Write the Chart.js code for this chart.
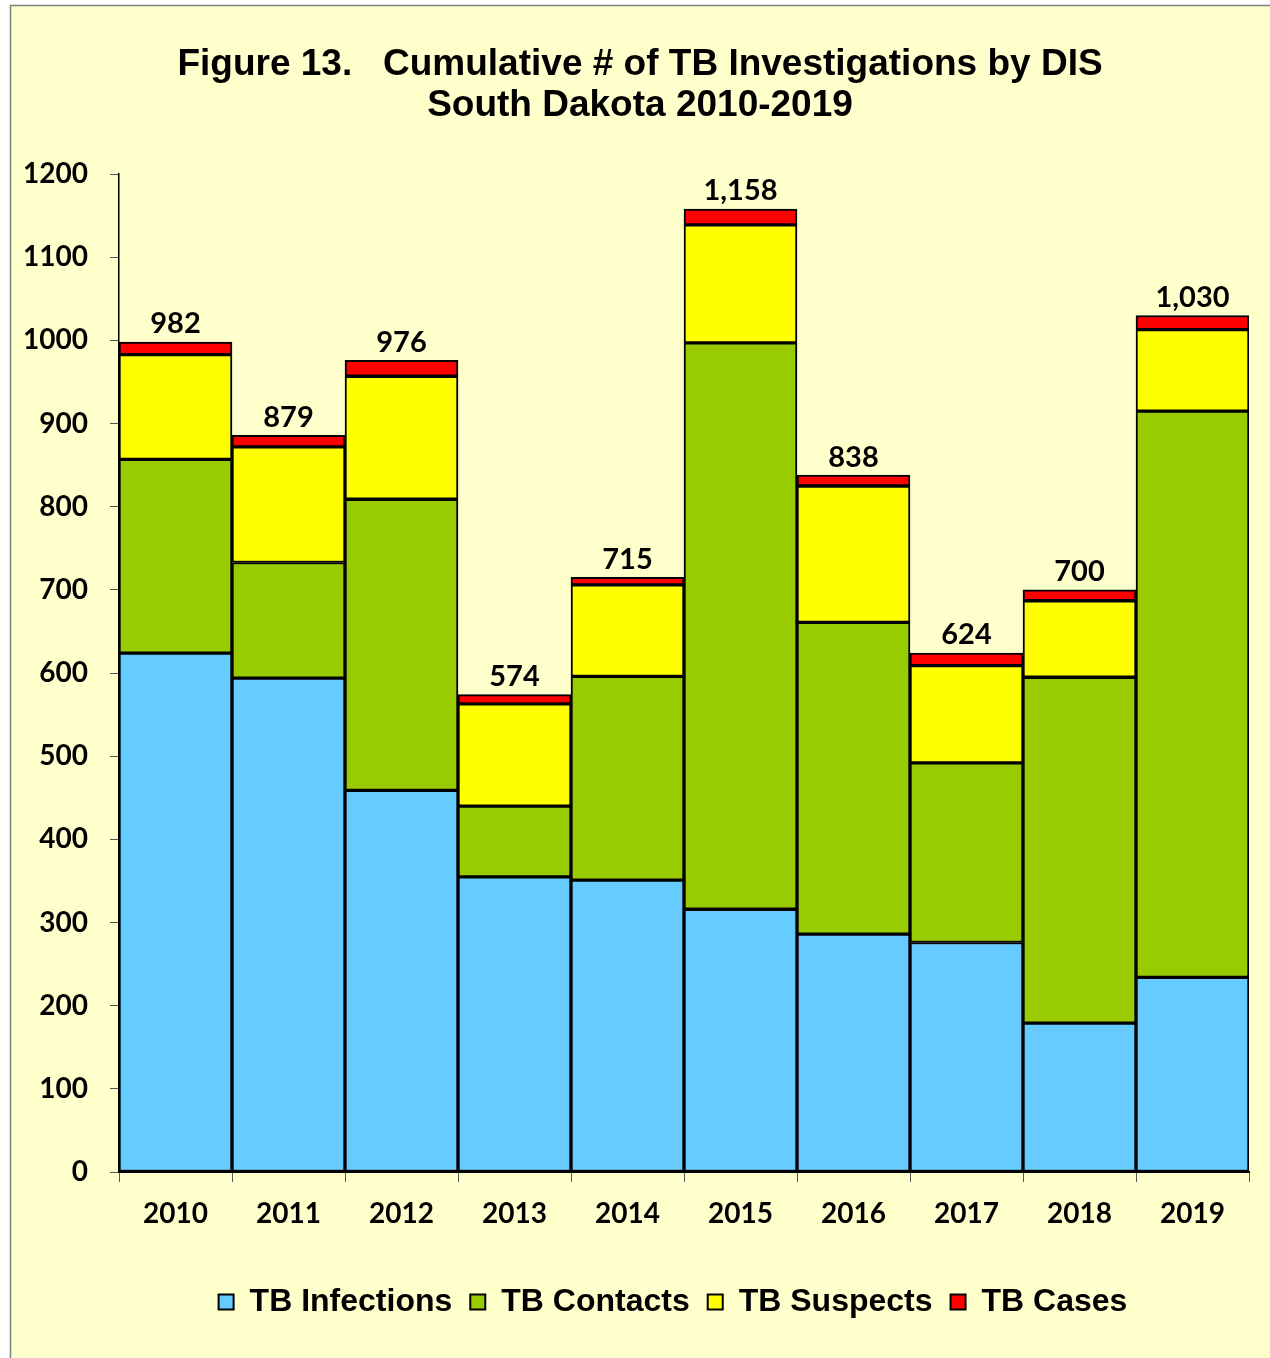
<!DOCTYPE html>
<html><head><meta charset="utf-8">
<script src="https://cdn.jsdelivr.net/npm/chart.js@4.4.1/dist/chart.umd.min.js"></script>
<style>html,body{margin:0;padding:0;background:#fff;} #wrap{width:1270px;height:1358px;position:relative;}</style>
</head><body><div id="wrap"><canvas id="c" width="1270" height="1358"></canvas></div>
<script>
const years = ['2010','2011','2012','2013','2014','2015','2016','2017','2018','2019'];
const tbInfections = [624,594,459,355,351,316,286,276,179,234];
const tbContacts   = [233,139,350,85,245,681,375,216,416,681];
const tbSuspects   = [126,139,148,123,110,142,164,117,92,98];
const tbCases      = [15,14,19,11,9,19,13,15,13,17];
const totalLabels  = ['982','879','976','574','715','1,158','838','624','700','1,030'];
const titleLines   = ['Figure 13.   Cumulative # of TB Investigations by DIS','South Dakota 2010-2019'];
const yTicks = {min:0, max:1200, step:100};

const ARIAL = '"Liberation Sans", Arial, sans-serif';
const CAL = 'Lato, "Open Sans", sans-serif';

const bgPlugin = {
  id:'bg',
  beforeDraw(chart){
    const ctx = chart.ctx;
    ctx.save();
    ctx.fillStyle = '#ffffff';
    ctx.fillRect(0,0,chart.width,chart.height);
    ctx.fillStyle = '#FFFFCC';
    ctx.fillRect(10,5,chart.width-10,chart.height-5);
    ctx.strokeStyle = '#808080';
    ctx.lineWidth = 1.5;
    ctx.beginPath();
    ctx.moveTo(10.5,chart.height); ctx.lineTo(10.5,5.5); ctx.lineTo(chart.width,5.5);
    ctx.stroke();
    ctx.restore();
  }
};

const legendShift = {
  id:'legendShift',
  afterLayout(chart){
    if (chart.legend){ chart.legend.left += 33; chart.legend.right += 33; }
  }
};

const totalsPlugin = {
  id:'totals',
  afterDatasetsDraw(chart){
    const ctx = chart.ctx;
    const meta = chart.getDatasetMeta(chart.data.datasets.length-1);
    ctx.save();
    ctx.fillStyle = '#000';
    ctx.font = 'bold 29px ' + CAL;
    ctx.textAlign = 'center';
    ctx.textBaseline = 'middle';
    meta.data.forEach((el,i)=>{
      ctx.fillText(totalLabels[i], el.x, el.y - 18);
    });
    ctx.restore();
  }
};

const mk = (label, data, color) => ({label, data, backgroundColor:color, borderColor:'#000', borderWidth:2, borderSkipped:false, barPercentage:1, categoryPercentage:1});

new Chart(document.getElementById('c'), {
  type:'bar',
  data:{
    labels: years,
    datasets:[
      mk('TB Infections', tbInfections, '#66CCFF'),
      mk('TB Contacts', tbContacts, '#99CC00'),
      mk('TB Suspects', tbSuspects, '#FFFF00'),
      mk('TB Cases', tbCases, '#FF0000')
    ]
  },
  plugins:[bgPlugin, totalsPlugin, legendShift],
  options:{
    responsive:false, animation:false, devicePixelRatio:1,
    layout:{padding:{left:10,right:0,top:5,bottom:30}},
    plugins:{
      title:{display:true, text:titleLines, color:'#000',
        font:{family:ARIAL, size:37, weight:'bold', lineHeight:1.11},
        padding:{top:39,bottom:48}},
      legend:{position:'bottom', labels:{color:'#000', font:{family:ARIAL,size:32,weight:'bold'}, boxWidth:15, boxHeight:15, padding:18}},
      tooltip:{enabled:false}
    },
    scales:{
      x:{stacked:true,
        grid:{display:true, drawOnChartArea:false, drawTicks:true, tickLength:10, color:'#555', offset:true},
        border:{display:true, color:'#000', width:2},
        ticks:{color:'#000', font:{family:CAL,size:28,weight:'bold'}, padding:15, maxRotation:0, autoSkip:false},
        afterFit:s=>{s.height=96;}},
      y:{stacked:true, min:yTicks.min, max:yTicks.max,
        ticks:{stepSize:yTicks.step, color:'#000', font:{family:CAL,size:28,weight:'bold'}, padding:22,
          callback:(v)=>String(v)},
        grid:{drawOnChartArea:false, tickLength:9, color:'#555'},
        border:{display:true, color:'#000', width:1.5},
        afterFit:s=>{s.width=109;}},
      yR:{position:'right', display:true, grid:{display:false}, ticks:{display:false}, border:{display:false},
        afterFit:s=>{s.width=21;}}
    }
  }
});
</script></body></html>
